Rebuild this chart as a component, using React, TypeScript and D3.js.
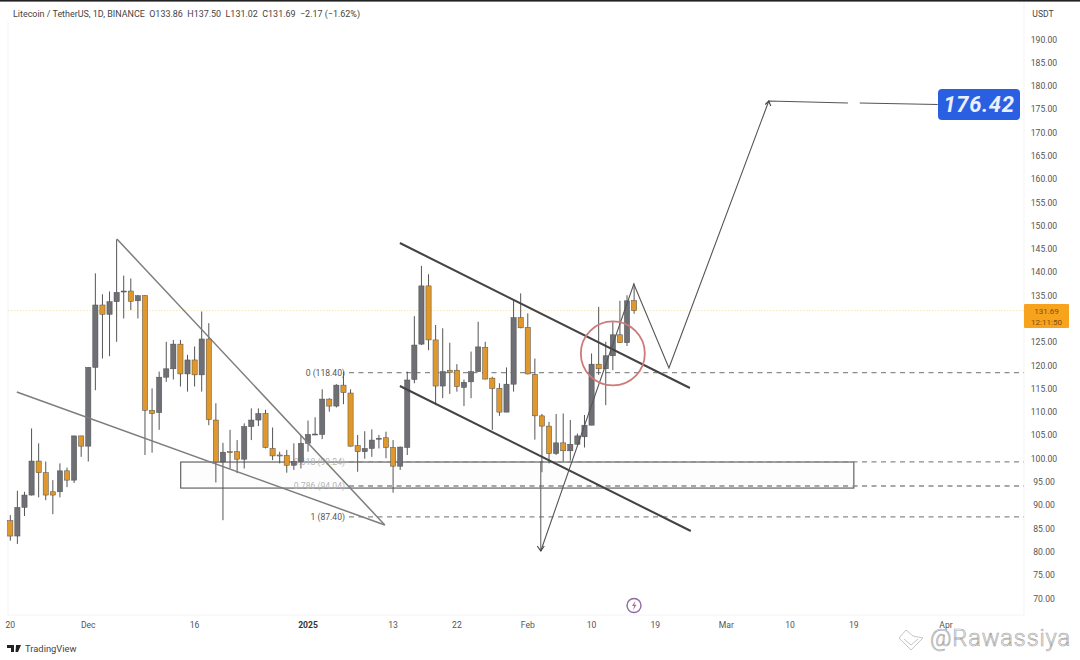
import React from 'react';
import * as d3 from 'd3';

// Daily candles, one per day from 20 Nov 2024 to 16 Feb 2025
const startDay = new Date(Date.UTC(2024, 10, 20));
const opens = [
  86.6, 83.3, 89.45, 92.1, 99.4, 96.9, 92.8, 92.8, 97.3, 95.3, 104.8,
  102.6, 119.5, 132.9, 130.9, 133.6, 135.7, 135.9, 133.8, 134.9, 110.3, 109.8, 117.4, 119.2, 124.5, 118.1, 121.1, 117.9, 125.6, 108.2, 99.2,
  101.4, 101.4, 99.8, 106.8, 108.2, 109.6, 102.1, 100.7, 100.6, 98.5, 99.3, 103.2,
  105.1, 105.1, 112.7, 111.2, 115.7, 114.0, 102.7, 101.4, 102.1, 104.1, 104.4, 102.3, 98.3, 102.3, 116.9, 124.5, 137.0, 125.4, 115.5, 118.9, 118.9, 115.2, 116.4, 118.6, 123.8, 117.2, 115.0, 109.9, 115.9, 130.2,
  128.1, 118.0, 109.1, 106.9, 101.0, 103.3, 101.6, 103.0, 104.6, 107.1, 120.2, 119.2, 122.0, 126.5, 124.8, 133.86,
];
const highs = [
  87.8, 93.03, 92.8, 106.4, 103.2, 99.3, 95.3, 98.9, 98.0, 104.8, 104.8,
  119.6, 139.7, 135.2, 135.8, 147.0, 139.2, 138.6, 135.0, 135.0, 115.0, 118.6, 125.0, 125.4, 125.4, 122.2, 124.0, 131.5, 129.0, 111.8, 103.3,
  106.1, 103.9, 107.5, 110.7, 110.7, 110.4, 106.6, 101.4, 101.8, 103.2, 105.0, 108.1,
  108.8, 114.8, 112.9, 115.9, 118.6, 114.8, 105.0, 105.8, 106.2, 105.0, 105.7, 103.9, 102.5, 118.6, 130.5, 141.3, 139.5, 128.6, 127.9, 124.8, 120.2, 116.9, 122.9, 129.3, 125.0, 117.5, 116.1, 119.5, 134.0, 135.4,
  131.1, 121.4, 109.5, 107.8, 109.5, 109.6, 108.2, 105.3, 109.3, 122.5, 132.5, 125.0, 129.3, 133.8, 135.0, 137.5,
];
const lows = [
  82.3, 81.6, 87.6, 92.0, 91.6, 91.0, 88.0, 91.6, 93.8, 94.7, 100.3,
  99.3, 114.6, 121.4, 121.9, 125.0, 130.0, 131.8, 130.0, 100.7, 101.2, 106.1, 116.4, 116.9, 115.4, 114.3, 115.4, 114.3, 107.1, 94.8, 86.7,
  97.8, 96.8, 97.8, 103.9, 106.9, 102.1, 99.6, 98.9, 96.9, 97.5, 97.8, 101.4,
  105.0, 104.1, 110.0, 110.9, 111.6, 102.5, 97.1, 99.9, 100.3, 102.1, 100.0, 92.6, 97.5, 100.7, 116.1, 124.3, 123.2, 111.4, 112.9, 113.8, 114.3, 111.2, 112.9, 118.6, 116.9, 106.1, 109.1, 109.9, 114.3, 127.9,
  118.0, 104.0, 97.0, 98.9, 100.7, 99.3, 99.5, 102.8, 102.3, 107.1, 117.9, 111.4, 118.9, 124.8, 124.1, 131.02,
];
const closes = [
  83.3, 89.45, 92.1, 99.4, 96.9, 92.1, 92.1, 97.3, 95.3, 104.8, 102.6,
  119.5, 132.9, 130.9, 133.6, 135.6, 135.9, 133.7, 134.9, 110.3, 109.6, 117.4, 119.2, 124.5, 118.1, 121.1, 117.9, 125.6, 108.3, 99.2, 101.3,
  101.2, 99.8, 106.8, 108.2, 109.6, 102.3, 100.5, 100.6, 98.5, 99.3, 103.2, 105.1,
  105.2, 112.7, 111.2, 115.7, 114.1, 102.6, 101.4, 102.1, 103.9, 104.3, 102.3, 98.3, 102.4, 116.8, 124.3, 137.0, 125.4, 115.5, 118.6, 118.4, 115.4, 116.3, 118.6, 123.9, 117.0, 115.0, 109.9, 115.9, 130.2, 128.0,
  118.1, 109.1, 106.9, 101.0, 103.3, 101.6, 103.0, 104.8, 107.1, 120.2, 119.2, 122.0, 126.5, 124.8, 133.8, 131.69,
];

// 130.00 sits under the last price label in the original, so it is left out
const priceTicks = [190, 185, 180, 175, 170, 165, 160, 155, 150, 145, 140, 135, 125, 120, 115, 110, 105, 100, 95, 90, 85, 80, 75, 70];
const timeTicks: [string, Date, boolean][] = [
  ['20', new Date(Date.UTC(2024, 10, 20)), false],
  ['Dec', new Date(Date.UTC(2024, 11, 1)), false],
  ['16', new Date(Date.UTC(2024, 11, 16)), false],
  ['2025', new Date(Date.UTC(2025, 0, 1)), true],
  ['13', new Date(Date.UTC(2025, 0, 13)), false],
  ['22', new Date(Date.UTC(2025, 0, 22)), false],
  ['Feb', new Date(Date.UTC(2025, 1, 1)), false],
  ['10', new Date(Date.UTC(2025, 1, 10)), false],
  ['19', new Date(Date.UTC(2025, 1, 19)), false],
  ['Mar', new Date(Date.UTC(2025, 2, 1)), false],
  ['10', new Date(Date.UTC(2025, 2, 10)), false],
  ['19', new Date(Date.UTC(2025, 2, 19)), false],
  ['Apr', new Date(Date.UTC(2025, 3, 1)), false],
];

// Fibonacci levels drawn on the chart
const fibLabels = ['0 (118.40)', '0.618 (99.24)', '0.786 (94.04)', '1 (87.40)'];
const fibPrices = [118.4, 99.24, 94.04, 87.4];

// Drawn lines as [days after start, price] pairs
const wedgeUpper = [[15.05, 147.06], [52.86, 85.67]];
const wedgeLower = [[0.95, 114.21], [52.86, 85.67]];
const channelUpper = [[54.97, 146.2], [95.88, 115.08]];
const channelLower = [[54.97, 115.5], [96.03, 84.38]];
const dropLine = [[74.86, 99.4], [74.86, 80.08]];
const pathLine = [[74.86, 80.08], [87.98, 137.4], [92.92, 119.37], [107.03, 176.69], [118.17, 176.26]];
const targetLine = [[119.86, 176.26], [130.86, 175.94]];
const zone = [[24.08, 99.19], [119.01, 93.6]];
const circleCentre = [85.0, 122.5];
const lastPrice = 131.69;

const x = d3.scaleTime()
  .domain([startDay, new Date(Date.UTC(2025, 3, 1))])
  .range([10.3, 946]);
const y = d3.scaleLinear().domain([190, 70]).range([39, 598]);

const day = (d: number) => x(d3.utcHour.offset(startDay, d * 24));
const line = d3.line<number[]>().x(d => day(d[0])).y(d => y(d[1]));

const font = 'Roboto, "Open Sans", sans-serif';
const up = '#6e7076';
const down = '#e0982c';

const App = () => {
  const plotRight = 1024;
  const arrowA = pathLine[0];
  const arrowB = pathLine[3];
  return (
    <svg width={1080} height={660} style={{ position: 'absolute', left: 0, top: 0, background: '#fff' }} fontFamily={font}>
      <rect x={0} y={0} width={1080} height={1.6} fill="#222" />
      <line x1={8} x2={8} y1={22} y2={615} stroke="#f3f3f3" />
      <line x1={plotRight} x2={plotRight} y1={2} y2={615} stroke="#f3f3f3" />
      <line x1={8} x2={1024} y1={615} y2={615} stroke="#f3f3f3" />

      <text x={13} y={16.5} fontSize={8.95} fill="#444">
        Litecoin / TetherUS, 1D, BINANCE&#160;&#160;O133.86&#160;&#160;H137.50&#160;&#160;L131.02&#160;&#160;C131.69&#160;&#160;−2.17 (−1.62%)
      </text>

      {/* price zone */}
      <rect x={day(zone[0][0])} y={y(zone[0][1])} width={day(zone[1][0]) - day(zone[0][0])} height={y(zone[1][1]) - y(zone[0][1])}
        fill="#fdfdfd" stroke="#555" strokeWidth={1.1} />

      {/* last price line */}
      <line x1={8} x2={plotRight} y1={y(lastPrice)} y2={y(lastPrice)} stroke="#f3e8b8" strokeWidth={1} strokeDasharray="1.5 1.5" />

      {/* fib levels */}
      {fibPrices.map((p, i) => (
        <g key={fibLabels[i]}>
          <line x1={349} x2={plotRight} y1={y(p)} y2={y(p)} stroke="#8b8b8b" strokeWidth={1.3} strokeDasharray="5 4.5" />
          <text x={345} y={y(p) + 3} textAnchor="end" fontSize={8.6} fill={i === 1 || i === 2 ? '#b5b5b5' : '#555'}>{fibLabels[i]}</text>
        </g>
      ))}

      {/* candles */}
      {opens.map((o, i) => {
        const c = closes[i];
        const cx = x(d3.utcDay.offset(startDay, i));
        const top = y(Math.max(o, c));
        const bottom = y(Math.min(o, c));
        return (
          <g key={i}>
            <line x1={cx} x2={cx} y1={y(highs[i])} y2={y(lows[i])} stroke="#555" strokeWidth={1} />
            <rect x={cx - 2.6} y={top} width={5.2} height={Math.max(bottom - top, 1)}
              fill={c >= o ? up : down} stroke="#4e4e4e" strokeWidth={0.5} />
          </g>
        );
      })}

      {/* hand drawn lines */}
      <path d={line(wedgeUpper) || ''} fill="none" stroke="#7d7d7d" strokeWidth={1.5} />
      <path d={line(wedgeLower) || ''} fill="none" stroke="#7d7d7d" strokeWidth={1.5} />
      <path d={line(channelUpper) || ''} fill="none" stroke="#444" strokeWidth={2.1} />
      <path d={line(channelLower) || ''} fill="none" stroke="#444" strokeWidth={2.1} />
      <path d={line(dropLine) || ''} fill="none" stroke="#666" strokeWidth={1.1} />
      <path d={line(pathLine) || ''} fill="none" stroke="#555" strokeWidth={1.1} />
      <path d={line(targetLine) || ''} fill="none" stroke="#555" strokeWidth={1.1} />
      {/* arrow heads */}
      <path transform={`translate(${day(arrowA[0])},${y(arrowA[1])})`} d="M-3.5,-5 L0,0 L3.5,-5" fill="none" stroke="#444" strokeWidth={1.1} />
      <path transform={`translate(${day(arrowB[0])},${y(arrowB[1])})`} d="M-3.5,3.5 L0,0 L2,5" fill="none" stroke="#444" strokeWidth={1.1} />

      <circle cx={day(circleCentre[0])} cy={y(circleCentre[1])} r={32} fill="none" stroke="#cf7a7a" strokeWidth={1.8} />

      {/* target label */}
      <rect x={938} y={89} width={82} height={31} rx={4} fill="#2a5fe2" />
      <text x={979} y={111.5} textAnchor="middle" fontSize={22} fontStyle="italic" fontWeight={700} fill="#eaf0ff" letterSpacing={0.6}>176.42</text>

      {/* price axis */}
      <text x={1043} y={17} textAnchor="middle" fontSize={8.6} fill="#444">USDT</text>
      {priceTicks.map(p => (
        <text key={p} x={1044} y={y(p) + 3.5} textAnchor="middle" fontSize={8.6} fill="#555">{p.toFixed(2)}</text>
      ))}
      <rect x={1024} y={304} width={45} height={24} rx={1} fill="#f7a31d" />
      <text x={1046.5} y={313.5} textAnchor="middle" fontSize={8} fill="#7a5210">131.69</text>
      <text x={1046.5} y={325} textAnchor="middle" fontSize={8} fill="#7a5210">12:11:50</text>

      {/* time axis */}
      {timeTicks.map(([label, date, bold], i) => (
        <text key={i} x={x(date)} y={628} textAnchor="middle" fontSize={8.6} fontWeight={bold ? 700 : 400} fill={bold ? '#333' : '#555'}>{label}</text>
      ))}

      {/* lightning badge */}
      <circle cx={634} cy={605.5} r={7} fill="#fff" stroke="#8e6aa0" strokeWidth={1.4} />
      <path d="M635.5,600.5 L632,606 L634.2,606 L633,610.5 L636.5,604.8 L634.3,604.8 Z" fill="#b0708a" />

      {/* footer */}
      <path d="M7,645 H14 V652 H11 V648 H7 Z M16,645 H21 L18,652 H15.5 Z" fill="#222" />
      <text x={25} y={652} fontSize={9.4} fill="#444">TradingView</text>

      {/* watermark */}
      <g fill="none" stroke="#b8b8b8" strokeWidth={0.8}>
        <path d="M899,638 L906,630 L913,636 L923,638 L911,650 L899,638 Z" fill="#fff" />
        <path d="M904,639 L911,645 L918,639" />
      </g>
      <text x={930} y={646} fontSize={23.5} fill="#fff" stroke="#a8a8a8" strokeWidth={0.7} fontWeight={300} letterSpacing={0.9}>@Rawassiya</text>
    </svg>
  );
};

export default App;
